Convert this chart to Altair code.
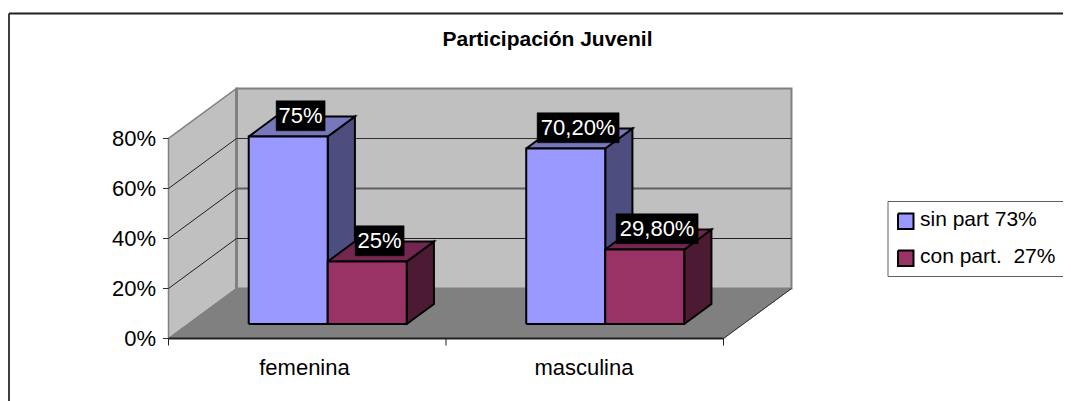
import altair as alt
import pandas as pd

categories = ["femenina", "masculina"]
series = ["sin part 73%", "con part.\u00a0 27%"]
sin_part = [75, 70.2]
con_part = [25, 29.8]
labels_sin = ["75%", "70,20%"]
labels_con = ["25%", "29,80%"]
y_ticks = [0, 20, 40, 60, 80]
y_tick_labels = ["0%", "20%", "40%", "60%", "80%"]
title_text = "Participación Juvenil"

FONT = "Liberation Sans"
W, H = 1055, 393
SLOT, UNIT, X0, Y0 = 277.5, 2.5, 168.5, 338.5   # px per category, px per %, origin
DX, DY = 68 / SLOT, 20.0                          # depth of the floor in data units
xs = alt.Scale(domain=[(8 - X0) / SLOT, (8 + W - X0) / SLOT], range=[0, W], nice=False, zero=False)
ys = alt.Scale(domain=[(Y0 - 401) / UNIT, (Y0 - 8) / UNIT], range=[H, 0], nice=False, zero=False)
ENC = dict(x=alt.X("x:Q", scale=xs, axis=None), y=alt.Y("y:Q", scale=ys, axis=None))


def P(u, v, z=0.0):
    return (u + z * DX, v + z * DY)


def poly(points, fill, stroke, sw=1.0):
    pts = list(points) + [points[0]]
    df = pd.DataFrame({"x": [p[0] for p in pts], "y": [p[1] for p in pts], "o": range(len(pts))})
    return alt.Chart(df).mark_line(fill=fill, stroke=stroke, strokeWidth=sw, strokeJoin="miter", clip=False).encode(
        order="o:Q", **ENC)


def seg(a, b, color, sw=1.0):
    df = pd.DataFrame({"x": [a[0], b[0]], "y": [a[1], b[1]], "o": [0, 1]})
    return alt.Chart(df).mark_line(stroke=color, strokeWidth=sw, clip=False).encode(order="o:Q", **ENC)


def txt(x, y, s, size, color="#000000", align="center", weight="normal"):
    df = pd.DataFrame({"x": [x], "y": [y], "t": [s]})
    return alt.Chart(df).mark_text(font=FONT, fontSize=size, color=color, align=align, baseline="middle",
                                   fontWeight=weight, clip=False).encode(text="t:N", **ENC)


def pix(px, py):
    """Layout position on the page (frame, title, legend) -> chart units."""
    return ((px - X0) / SLOT, (Y0 - py) / UNIT)


def box(x1, y1, x2, y2, fill, stroke, sw=1.0):
    return poly([pix(x1, y1), pix(x2, y1), pix(x2, y2), pix(x1, y2)], fill, stroke, sw)


layers = []
# frame
layers.append(seg(pix(9, 401), pix(9, 13.5), "#404040", 2))
layers.append(seg(pix(9, 13.5), pix(1071, 13.5), "#202020", 2))

TOP, N = 80, 2
# walls and floor
layers.append(poly([P(0, 0, 1), P(N, 0, 1), P(N, TOP, 1), P(0, TOP, 1)], "#C0C0C0", "#808080", 2))
layers.append(poly([P(0, 0, 0), P(0, 0, 1), P(0, TOP, 1), P(0, TOP, 0)], "#C0C0C0", "#808080", 1.5))
layers.append(seg(P(0, 0, 1), P(0, TOP, 1), "#808080", 3))
layers.append(poly([P(0, 0, 0), P(N, 0, 0), P(N, 0, 1), P(0, 0, 1)], "#808080", "#808080", 1))
layers.append(seg(P(N, 0, 0), P(N, 0, 1), "#303030", 1))
layers.append(seg(P(0, 0, 0), P(N, 0, 0), "#202020", 2))

# gridlines
for v, col, sw in zip(y_ticks[1:4], ["#202020", "#606060", "#303030"], [1, 2, 1]):
    layers.append(seg(P(0, v, 0), P(0, v, 1), "#202020", 1))
    layers.append(seg(P(0, v, 1), P(N, v, 1), col, sw))

# axis ticks and labels
for v, s in zip(y_ticks, y_tick_labels):
    layers.append(seg(P(-5.5 / SLOT, v), P(0, v), "#303030", 1))
    layers.append(txt(-12.5 / SLOT, v - 0.1, s, 22, align="right"))
for i in range(N + 1):
    layers.append(seg(P(i, 0), P(i, -7 / UNIT), "#202020", 1))
for i, c in enumerate(categories):
    layers.append(txt(i + 0.49 + 0.007 * i, -11.8, c, 22))

# bars
Z0, Z1 = 0.29, 0.69
GAP, BW = 60.5 / SLOT, 79.0 / SLOT
FILLS = [("#9999FF", "#4D4D80", "#7777BB"), ("#993366", "#4D1A33", "#732650")]
rows = [sin_part, con_part]
EDGE = 2
for i in range(N):
    for s in range(2):
        v = rows[s][i]
        a, b = i + GAP + s * BW, i + GAP + (s + 1) * BW
        front, side, top = FILLS[s]
        layers.append(poly([P(b, 0, Z0), P(b, 0, Z1), P(b, v, Z1), P(b, v, Z0)], side, "#000000", EDGE))
        layers.append(poly([P(a, v, Z0), P(b, v, Z0), P(b, v, Z1), P(a, v, Z1)], top, "#000000", EDGE))
        layers.append(poly([P(a, 0, Z0), P(b, 0, Z0), P(b, v, Z0), P(a, v, Z0)], front, "#000000", EDGE))

# data labels
for i in range(N):
    for s, labs in enumerate([labels_sin, labels_con]):
        v = rows[s][i]
        t = labs[i]
        hw = (24.5 if len(t) < 5 else 41) / SLOT
        cx, cy = P(i + GAP + (s + 0.5) * BW, v, (Z0 + Z1) / 2)
        cx -= 1.2 / SLOT
        cy += 4.3
        layers.append(poly([(cx - hw, cy - 6), (cx + hw, cy - 6), (cx + hw, cy + 6), (cx - hw, cy + 6)],
                           "#000000", "#000000", 0.5))
        layers.append(txt(cx, cy, t, 22, color="#FFFFFF"))

# title
layers.append(txt(*pix(547.5, 40), title_text, 21, weight="bold"))

# legend
layers.append(box(888, 201.5, 1075, 276.5, "#FFFFFF", "#606060", 1))
for (name, fill, py) in zip(series, ["#9999FF", "#993366"], [221, 258]):
    layers.append(box(898, py - 7.5, 913.5, py + 8, fill, "#000000", 2))
    layers.append(txt(*pix(920, py - 1.5), name, 21, align="left"))

chart = alt.layer(*layers).properties(width=W, height=H, padding=0, autosize="none",
                                      background="#FFFFFF").configure_view(stroke=None)
chart.save("out.html", embed_options={"renderer": "svg", "actions": False})
